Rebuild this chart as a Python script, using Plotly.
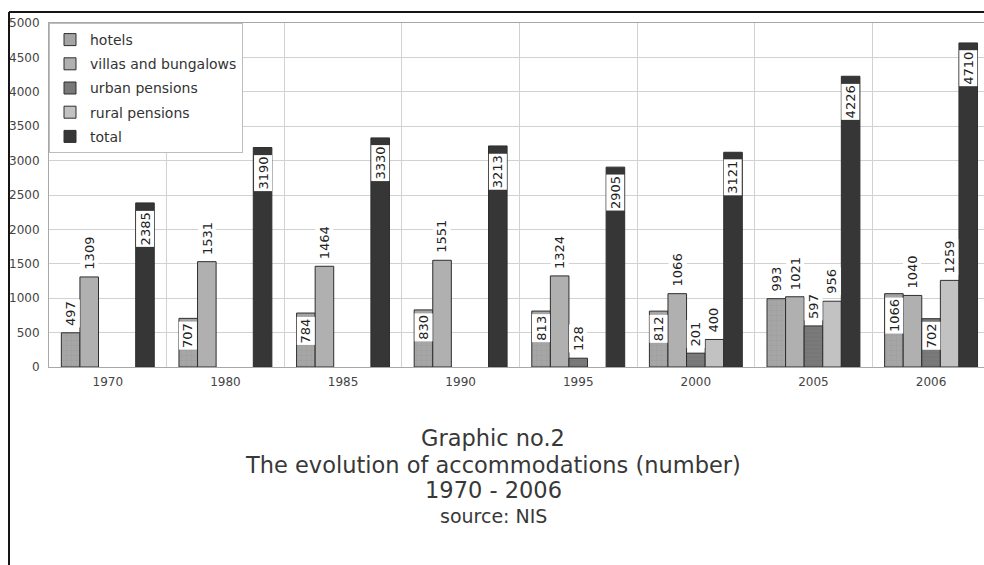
import plotly.graph_objects as go

# Accommodation counts by type, 1970 - 2006
years = ["1970", "1980", "1985", "1990", "1995", "2000", "2005", "2006"]
hotels = [497, 707, 784, 830, 813, 812, 993, 1066]
villas = [1309, 1531, 1464, 1551, 1324, 1066, 1021, 1040]
urban = [0, 0, 0, 0, 128, 201, 597, 702]
rural = [0, 0, 0, 0, 0, 400, 956, 1259]
total = [2385, 3190, 3330, 3213, 2905, 3121, 4226, 4710]

series = [
    ("hotels", hotels, "#a6a6a6", dict(shape="+", size=5, solidity=0.12, fgcolor="#8a8a8a")),
    ("villas and bungalows", villas, "#b0b0b0", None),
    ("urban pensions", urban, "#7a7a7a", dict(shape="-", size=4, solidity=0.15, fgcolor="#626262")),
    ("rural pensions", rural, "#c2c2c2", None),
    ("total", total, "#363636", None),
]

# value labels drawn inside the top of the bar (others sit just above it)
inside = {("total", y) for y in years}
inside |= {("hotels", y) for y in ["1980", "1985", "1990", "1995", "2000", "2006"]}
inside |= {("urban pensions", "2006")}

W, H = 984, 565
L, T = 49, 23
PLOT_H = 344
BARGAP = 0.21
NS = len(series)
bw = (1 - BARGAP) / NS

xs = list(range(len(years)))
fig = go.Figure()
annotations = []
for j, (name, vals, col, patt) in enumerate(series):
    marker = dict(color=col, line=dict(color="#2e2e2e", width=1))
    if patt:
        marker["pattern"] = dict(fillmode="overlay", **patt)
    fig.add_trace(go.Bar(
        name=name, x=xs, y=[v if v else None for v in vals], legendgroup=name,
        marker=marker, hoverinfo="skip",
    ))
    for i, v in enumerate(vals):
        if not v:
            continue
        xi = i + (j - (NS - 1) / 2) * bw
        if (name, years[i]) in inside:
            shift = -7 if name == "total" else -3
            anchor = "top"
        else:
            shift = 5
            anchor = "bottom"
        annotations.append(dict(
            x=xi, y=v, xref="x", yref="y", text=str(v), showarrow=False,
            textangle=-90, yanchor=anchor, xanchor="center", yshift=shift,
            bgcolor="white", borderpad=1,
            font=dict(family="DejaVu Sans", size=13, color="#222"),
        ))

# caption under the chart
cx = (493 - L) / (W - L)
def py(px):
    return ((T + PLOT_H) - px) / PLOT_H

caption = [
    ("Graphic no.2", 438, 22.5),
    ("The evolution of accommodations (number)", 465, 22.5),
    ("1970 - 2006", 490, 22.5),
    ("source: NIS", 516, 19),
]
for txt, ypx, fs in caption:
    annotations.append(dict(
        x=cx, y=py(ypx), xref="paper", yref="paper", text=txt, showarrow=False,
        xanchor="center", yanchor="middle",
        font=dict(family="DejaVu Sans", size=fs, color="#383838"),
    ))

# outer frame lines (top and left)
fx = (9 - L) / (W - L)
shapes = [
    dict(type="line", xref="paper", yref="paper",
         x0=fx, x1=1.01, y0=py(12), y1=py(12),
         line=dict(color="#151515", width=2)),
    dict(type="line", xref="paper", yref="paper",
         x0=fx, x1=fx, y0=py(12), y1=py(W),
         line=dict(color="#151515", width=2)),
]

fig.update_layout(
    width=W, height=H,
    margin=dict(l=L, r=0, t=T, b=H - T - PLOT_H),
    paper_bgcolor="white", plot_bgcolor="white",
    barmode="group", bargap=BARGAP, bargroupgap=0,
    showlegend=True,
    legend=dict(
        x=0, y=1, xanchor="left", yanchor="top",
        bgcolor="white", bordercolor="#bdbdbd", borderwidth=1,
        font=dict(family="DejaVu Sans", size=14, color="#333"),
        traceorder="grouped", tracegroupgap=3,
    ),
    annotations=annotations,
    shapes=shapes,
)
fig.update_xaxes(
    range=[-0.5, len(years) - 0.55],
    tickmode="array", tickvals=xs, ticktext=years,
    showgrid=False, zeroline=False,
    showline=True, linecolor="#a8a8a8", linewidth=1, mirror=True,
    minor=dict(tickmode="linear", tick0=0.5, dtick=1, showgrid=True,
               gridcolor="#d2d2d2", gridwidth=1, ticks=""),
    ticklabelstandoff=4,
    tickfont=dict(family="DejaVu Sans", size=12, color="#444"),
    fixedrange=True,
)
fig.update_yaxes(
    range=[0, 5000], dtick=500, showgrid=True, gridcolor="#d2d2d2",
    zeroline=False, showline=True, linecolor="#a8a8a8", linewidth=1,
    ticklabelstandoff=6,
    tickfont=dict(family="DejaVu Sans", size=12, color="#444"),
    fixedrange=True,
)

fig.write_html("out.html")
